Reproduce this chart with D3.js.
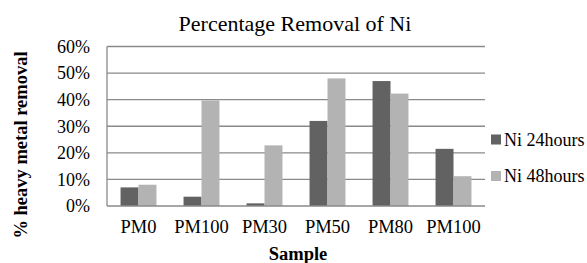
<!DOCTYPE html>
<html><head><meta charset="utf-8">
<script src="https://cdn.jsdelivr.net/npm/d3@7"></script>
<style>body{margin:0;background:#fff}svg{display:block}text{font-family:"Liberation Serif","Times New Roman",serif}</style>
</head><body><svg id="c" width="587" height="263"></svg>
<script>
const categories = ["PM0","PM100","PM30","PM50","PM80","PM100 "];
const categoryLabels = ["PM0","PM100","PM30","PM50","PM80","PM100"];
const seriesNames = ["Ni 24hours","Ni 48hours"];
const ni24 = [7.0, 3.5, 1.0, 32.0, 47.0, 21.5];
const ni48 = [8.0, 39.7, 22.8, 48.0, 42.3, 11.2];
const yTicks = [0,10,20,30,40,50,60];
const colors = ["#626262","#b3b3b3"];

const svg = d3.select("#c");
const m = {l:107, r:485, t:46.5, b:206};
const x = d3.scaleBand().domain(categories).range([m.l, m.r]).paddingInner(0.43).paddingOuter(0.215);
const xs = d3.scaleBand().domain(seriesNames).range([0, x.bandwidth()]);
const y = d3.scaleLinear().domain([0,60]).range([m.b, m.t]);

// gridlines
svg.append("g").selectAll("line").data(yTicks.filter(d=>d>0)).join("line")
  .attr("x1", m.l).attr("x2", m.r).attr("y1", d=>y(d)).attr("y2", d=>y(d))
  .attr("stroke", "#8a8a8a").attr("stroke-width", 1.3);

// bars
const series = [ni24, ni48];
series.forEach((vals, si) => {
  svg.append("g").selectAll("rect").data(vals).join("rect")
    .attr("x", (d,i)=>x(categories[i]) + xs(seriesNames[si]))
    .attr("width", xs.bandwidth())
    .attr("y", d=>y(d)).attr("height", d=>y(0)-y(d))
    .attr("fill", colors[si]);
});

// axes lines
svg.append("line").attr("x1", m.l).attr("x2", m.l).attr("y1", m.t).attr("y2", m.b)
  .attr("stroke", "#8a8a8a").attr("stroke-width", 1.3);
svg.append("line").attr("x1", m.l).attr("x2", m.r).attr("y1", m.b).attr("y2", m.b)
  .attr("stroke", "#8a8a8a").attr("stroke-width", 1.3);

// y tick labels
svg.append("g").selectAll("text").data(yTicks).join("text")
  .attr("x", 90).attr("y", d=>y(d)).attr("dy", "0.35em")
  .attr("text-anchor", "end").attr("font-size", 18).attr("fill", "#000")
  .text(d=>d+"%");

// x labels
svg.append("g").selectAll("text").data(categories).join("text")
  .attr("x", d=>x(d)+x.bandwidth()/2).attr("y", 232.5)
  .attr("text-anchor", "middle").attr("font-size", 18.5).attr("fill", "#000")
  .text((d,i)=>categoryLabels[i]);

// title
svg.append("text").attr("x", 295).attr("y", 30.5).attr("text-anchor","middle")
  .attr("font-size", 22).text("Percentage Removal of Ni");

// axis titles
svg.append("text").attr("x", 298).attr("y", 260).attr("text-anchor","middle")
  .attr("font-size", 18.5).attr("font-weight","bold").text("Sample");
svg.append("text").attr("transform","translate(27,145) rotate(-90)").attr("text-anchor","middle")
  .attr("font-size", 18.5).attr("font-weight","bold").text("% heavy metal removal");

// legend
const lg = svg.append("g").selectAll("g").data(seriesNames).join("g")
  .attr("transform", (d,i)=>`translate(491,${139.5 + i*36.5})`);
lg.append("rect").attr("x",0).attr("y",-5).attr("width",10).attr("height",10).attr("fill",(d,i)=>colors[i]);
lg.append("text").attr("x",13).attr("y",0).attr("dy","0.35em").attr("font-size",18).text(d=>d);
</script></body></html>
